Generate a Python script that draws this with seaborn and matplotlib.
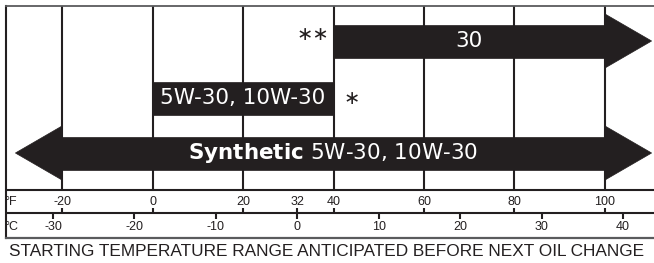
import matplotlib
matplotlib.use("Agg")
import matplotlib.pyplot as plt
from matplotlib.patches import Polygon
import seaborn as sns

sns.set_theme(style="white")
plt.rcParams['font.family'] = ['Liberation Sans', 'DejaVu Sans']

# Datos: grados de aceite y su rango de temperatura (°F)
grados = ['30', '5W-30, 10W-30', r'$\mathbf{Synthetic}$ 5W-30, 10W-30']
temp_baja = [40, 0, -20]
temp_alta = [100, 40, 100]
abierto_abajo = [False, False, True]
abierto_arriba = [True, False, True]
notas = ['∗∗', '∗', '']

f_ticks = [-20, 0, 20, 32, 40, 60, 80, 100]
f_grid = [-20, 0, 20, 40, 60, 80, 100]
c_ticks = [-30, -20, -10, 0, 10, 20, 30, 40]

titulo = 'STARTING TEMPERATURE RANGE ANTICIPATED BEFORE NEXT OIL CHANGE'

# Layout (y en pixeles desde arriba)
filas_y = [41, 98.5, 153]
medio_cuerpo = 16.5
medio_punta = 27
largo_punta = 10.3
tinta = '#231f20'
gris = '#5a5b5d'

fig = plt.figure(figsize=(6.54, 2.63), dpi=100)
ax = fig.add_axes([6 / 654, 25 / 263, 648 / 654, 232 / 263])
ax.set_xlim(-32.38, 110.83)
ax.set_ylim(238, 6)
ax.set_xticks([])
ax.set_yticks([])
ax.spines['right'].set_visible(False)
ax.spines['left'].set_color(tinta)
ax.spines['left'].set_linewidth(1.5)
ax.spines['top'].set_color(gris)
ax.spines['top'].set_linewidth(1.3)
ax.spines['bottom'].set_color(gris)
ax.spines['bottom'].set_linewidth(1.6)

# Rejilla vertical y lineas de escala
ax.vlines(f_grid, 6, 190, color=tinta, lw=1.5, zorder=1)
ax.axhline(190, color=tinta, lw=1.5, zorder=1)
ax.axhline(213, color=tinta, lw=1.5, zorder=1)

# Barras y flechas
for g, lo, hi, ab, ar, nota, y in zip(grados, temp_baja, temp_alta, abierto_abajo,
                                       abierto_arriba, notas, filas_y):
    ax.barh(y, hi - lo, left=lo, height=2 * medio_cuerpo, color=tinta,
            edgecolor=tinta, linewidth=0.5, zorder=3)
    if ar:
        ax.add_patch(Polygon([(hi, y - medio_punta), (hi + largo_punta, y), (hi, y + medio_punta)],
                             closed=True, facecolor=tinta, edgecolor=tinta, lw=0.5, zorder=3))
    if ab:
        ax.add_patch(Polygon([(lo, y - medio_punta), (lo - largo_punta, y), (lo, y + medio_punta)],
                             closed=True, facecolor=tinta, edgecolor=tinta, lw=0.5, zorder=3))
    ax.text((lo + hi) / 2, y, g, color='white', ha='center', va='center',
            fontsize=15.5, family='DejaVu Sans', zorder=4)
    if nota:
        if ab or ar:
            ax.text(lo - 1.0, y - 6, nota, ha='right', va='center', fontsize=14,
                    family='DejaVu Sans', color=tinta)
        else:
            ax.text(hi + 2.2, y, nota, ha='left', va='center', fontsize=14,
                    family='DejaVu Sans', color=tinta)

# Escala Fahrenheit
ax.vlines(f_ticks, 208, 213, color=tinta, lw=1.5)
for f in f_ticks:
    ax.text(f, 202, str(f), ha='center', va='center', fontsize=9, color=tinta)

# Escala Celsius
c_pos = [c * 9 / 5 + 32 for c in c_ticks]
ax.vlines(c_pos, 213, 219, color=tinta, lw=1.5)
for c, x in zip(c_ticks, c_pos):
    ax.text(x, 227, str(c), ha='center', va='center', fontsize=9, color=tinta)

ax.text(-32.8, 202, '°F', ha='left', va='center', fontsize=9, color=tinta, clip_on=False)
ax.text(-32.8, 227, '°C', ha='left', va='center', fontsize=9, color=tinta, clip_on=False)

fig.text(0.5, 1 - 251.5 / 263, titulo, ha='center', va='center', fontsize=12.45, color=tinta)

fig.savefig('out.png', dpi=100)
